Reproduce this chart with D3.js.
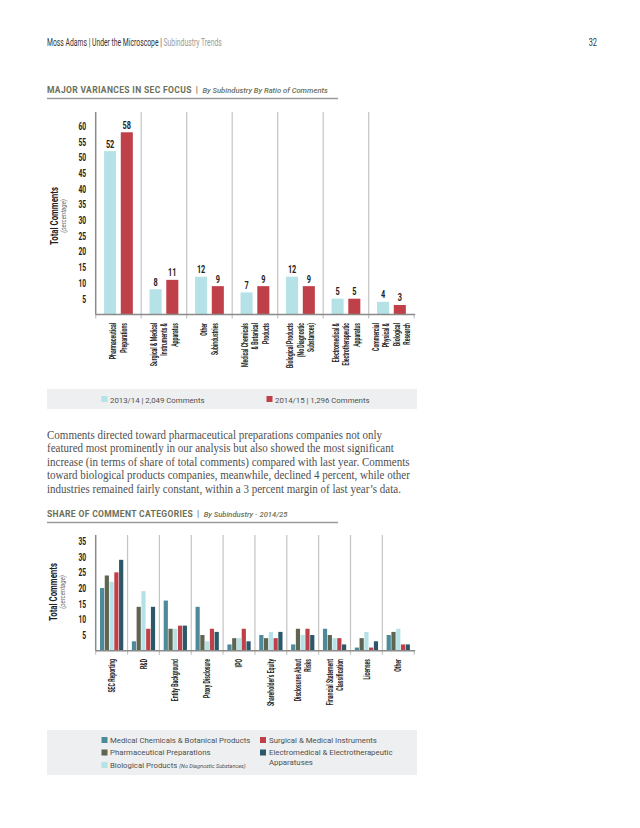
<!DOCTYPE html>
<html><head><meta charset="utf-8">
<script src="https://cdn.jsdelivr.net/npm/d3@7"></script>
<style>
body{margin:0;background:#fff;}
svg{display:block;}
</style></head>
<body>
<svg id="c" width="640" height="828"></svg>
<script>
// ---------- DATA ----------
const topCategories = [
  ["Pharmaceutical","Preparations"],
  ["Surgical & Medical","Instruments &","Apparatus"],
  ["Other","Subindustries"],
  ["Medical Chemicals","& Botanical","Products"],
  ["Biological Products","(No Diagnostic","Substances)"],
  ["Electromedical &","Electrotherapeutic","Apparatus"],
  ["Commercial","Physical &","Biological","Research"]
];
const topSeriesNames = ["2013/14 | 2,049 Comments","2014/15 | 1,296 Comments"];
const values2013 = [52, 8, 12, 7, 12, 5, 4];
const values2014 = [58, 11, 9, 9, 9, 5, 3];
const topTicks = [5,10,15,20,25,30,35,40,45,50,55,60];

const botCategories = [
  ["SEC Reporting"],["R&D"],["Entity Background"],["Proxy Disclosure"],["IPO"],
  ["Shareholder's Equity"],["Disclosures About","Risks"],["Financial Statement","Classification"],
  ["Licenses"],["Other"]
];
const botSeriesNames = ["Medical Chemicals & Botanical Products","Pharmaceutical Preparations",
  "Biological Products","Surgical & Medical Instruments","Electromedical & Electrotherapeutic"];
const medicalChemicals = [20, 3, 16, 14, 2, 5, 2, 7, 1, 5];
const pharmaceutical   = [24, 14, 7, 5, 4, 4, 7, 5, 4, 6];
const biological       = [22, 19, 7, 3, 4, 6, 5, 4, 6, 7];
const surgical         = [25, 7, 8, 7, 7, 4, 7, 4, 1, 2];
const electromedical   = [29, 14, 8, 6, 3, 6, 5, 2, 3, 2];
const botTicks = [5,10,15,20,25,30,35];

// ---------- STYLE ----------
const C = {cyan:"#b4e2e6", red:"#c0404a", teal:"#4d8b9b", olive:"#5e6550", dark:"#2c5769",
  title:"#6b6f58", axis:"#8a8a8a", sep:"#c4c4c4", text:"#222", legendBg:"#eeeff0", para:"#4f4f4f"};
const SANS = "Roboto, 'DejaVu Sans', sans-serif";

const svg = d3.select("#c");

// condensed text helper (real text, horizontally compressed)
function ctext(parent, o){
  const t = parent.append("text")
    .attr("transform",`translate(${o.x},${o.y}) rotate(${o.rot||0}) scale(${o.sx||0.7},1)`)
    .attr("text-anchor",o.anchor||"start")
    .attr("font-family",SANS).attr("font-size",o.size||9)
    .attr("font-weight",o.weight||400).attr("fill",o.fill||C.text);
  if(o.dy) t.attr("dy",o.dy);
  if(o.style) t.attr("font-style",o.style);
  t.text(o.text);
  return t;
}

// Header
const hdr = svg.append("text").attr("font-family",SANS).attr("font-size",10.8);
hdr.append("tspan").attr("fill","#333").text("Moss Adams | Under the Microscope | ");
hdr.append("tspan").attr("fill","#9a9a9a").text("Subindustry Trends");
const hl = hdr.node().getComputedTextLength();
hdr.attr("transform",`translate(47,46) scale(${175/hl},1)`);
ctext(svg,{x:597,y:46,anchor:"end",size:10.8,sx:0.68,fill:"#333",text:"32"});

function sectionTitle(y, main, sub){
  const t = svg.append("text").attr("font-family",SANS).attr("x",47).attr("y",y).attr("fill",C.title);
  t.append("tspan").attr("font-size",8.5).attr("font-weight",700).attr("letter-spacing",0.35).text(main);
  t.append("tspan").attr("font-size",8.5).attr("font-weight",700).attr("dx",4).text("|");
  t.append("tspan").attr("font-size",7.6).attr("font-style","italic").attr("font-weight",500)
    .attr("dx",4.5).text(sub);
  svg.append("line").attr("x1",47).attr("x2",338).attr("y1",y+5.5).attr("y2",y+5.5)
    .attr("stroke","#9a9a9a").attr("stroke-width",1.6);
}
sectionTitle(93, "MAJOR VARIANCES IN SEC FOCUS", "By Subindustry By Ratio of Comments");
sectionTitle(517, "SHARE OF COMMENT CATEGORIES", "By Subindustry - 2014/25");

function yTitle(cx, cy){
  ctext(svg,{x:cx,y:cy,rot:-90,anchor:"middle",size:11.2,weight:700,sx:0.7,text:"Total Comments"});
  ctext(svg,{x:cx+8,y:cy,rot:-90,anchor:"middle",size:7.2,sx:0.85,style:"italic",fill:"#666",text:"(percentage)"});
}

function drawChart(opt){
  const {cats, series, colors, ticks, x0, x1, yBase, yTopVal, yTopPx, axisTop, inner, labels, labelTop, lineH, fs} = opt;
  const idx = d3.range(cats.length);
  const x = d3.scaleBand().domain(idx).range([x0,x1]).paddingInner(0).paddingOuter(0);
  const xs = d3.scaleBand().domain(d3.range(series.length)).range([0,x.bandwidth()])
    .paddingInner(inner[0]).paddingOuter(inner[1]);
  const y = d3.scaleLinear().domain([0,yTopVal]).range([yBase,yTopPx]);
  const g = svg.append("g");
  // separators
  g.selectAll("line.sep").data(idx.slice(1).concat([cats.length])).join("line")
    .attr("x1",d=>x0+d*x.step()).attr("x2",d=>x0+d*x.step())
    .attr("y1",d=> d===cats.length ? yBase : axisTop).attr("y2",yBase+4)
    .attr("stroke",C.sep).attr("stroke-width",1.2);
  // bars
  series.forEach((vals,s)=>{
    g.selectAll(null).data(vals).join("rect")
      .attr("x",(d,i)=>x(i)+xs(s)).attr("width",xs.bandwidth())
      .attr("y",d=>y(d)).attr("height",d=>yBase-y(d)).attr("fill",colors[s]);
    if(labels){
      vals.forEach((d,i)=>{
        ctext(g,{x:x(i)+xs(s)+xs.bandwidth()/2, y:y(d)-3.5, anchor:"middle", size:10.5,
          weight:700, sx:0.7, text:d});
      });
    }
  });
  // axes
  const sx = 0.64;
  const ya = d3.axisLeft(y).tickValues(ticks).tickSize(0).tickPadding(0);
  const ag = g.append("g").attr("transform",`translate(${x0},0)`).call(ya);
  ag.select(".domain").remove();
  ag.selectAll("text").attr("x",-9.5/sx).attr("transform",`scale(${sx},1)`)
    .attr("font-size",10.5).attr("font-weight",700).attr("font-family",SANS).attr("fill",C.text);
  g.append("line").attr("x1",x0).attr("x2",x0).attr("y1",axisTop).attr("y2",yBase+1)
    .attr("stroke",C.axis).attr("stroke-width",1.5);
  g.append("line").attr("x1",x0).attr("x2",x1+1).attr("y1",yBase).attr("y2",yBase)
    .attr("stroke",C.axis).attr("stroke-width",1.5);
  g.append("line").attr("x1",x0).attr("x2",x0).attr("y1",yBase).attr("y2",yBase+4)
    .attr("stroke",C.sep).attr("stroke-width",1.2);
  // category labels
  cats.forEach((lines,i)=>{
    const cx = x(i)+x.bandwidth()/2;
    lines.forEach((ln,j)=>{
      const lx = cx + (j-(lines.length-1)/2)*lineH;
      ctext(svg,{x:lx, y:labelTop, rot:-90, anchor:"end", dy:"0.36em", size:fs, weight:700,
        sx:0.6, text:ln});
    });
  });
}

// Top chart
yTitle(58, 216);
drawChart({cats:topCategories, series:[values2013,values2014], colors:[C.cyan,C.red],
  ticks:topTicks, x0:95.7, x1:414.2, yBase:314.4, yTopVal:60, yTopPx:126, axisTop:112,
  inner:[0.28,0.5], labels:true, labelTop:323, lineH:10.5, fs:8.6});

// Top legend
svg.append("rect").attr("x",47).attr("y",389).attr("width",370).attr("height",20).attr("fill",C.legendBg);
[[101.5,110,C.cyan,topSeriesNames[0]],[266.5,275,C.red,topSeriesNames[1]]].forEach(([sx,tx,col,name])=>{
  svg.append("rect").attr("x",sx).attr("y",396).attr("width",6).attr("height",6).attr("fill",col);
  svg.append("text").attr("font-family",SANS).attr("x",tx).attr("y",402.5).attr("font-size",7.8)
    .attr("fill",C.para).text(name);
});

// Paragraph
const para = [
  "Comments directed toward pharmaceutical preparations companies not only",
  "featured most prominently in our analysis but also showed the most significant",
  "increase (in terms of share of total comments) compared with last year. Comments",
  "toward biological products companies, meanwhile, declined 4 percent, while other",
  "industries remained fairly constant, within a 3 percent margin of last year\u2019s data."
];
const pg = svg.append("g");
pg.selectAll("text").data(para).join("text")
  .attr("x",0).attr("y",(d,i)=>i*13.4)
  .attr("font-family","'Liberation Serif','DejaVu Serif',serif").attr("font-size",12.2)
  .attr("fill",C.para).text(d=>d);
const l0 = pg.select("text").node().getComputedTextLength();
pg.attr("transform",`translate(47,439) scale(${335/l0},1)`);

// Bottom chart
yTitle(57, 592);
drawChart({cats:botCategories, series:[medicalChemicals,pharmaceutical,biological,surgical,electromedical],
  colors:[C.teal,C.olive,C.cyan,C.red,C.dark], ticks:botTicks, x0:95.7, x1:414.2, yBase:650.7,
  yTopVal:35, yTopPx:541, axisTop:535, inner:[0.12,0.9], labels:false, labelTop:659, lineH:10, fs:8.6});

// Bottom legend
svg.append("rect").attr("x",47).attr("y",730).attr("width",370).attr("height",45).attr("fill",C.legendBg);
const legItems = [
  [101.5,110,740,C.teal,botSeriesNames[0]],
  [101.5,110,752.5,C.olive,botSeriesNames[1]],
  [101.5,110,765,C.cyan,botSeriesNames[2]],
  [260,269,740,C.red,botSeriesNames[3]],
  [260,269,752.5,C.dark,botSeriesNames[4]]
];
legItems.forEach(([sx,tx,cy,col,name],k)=>{
  svg.append("rect").attr("x",sx).attr("y",cy-3).attr("width",6).attr("height",6).attr("fill",col);
  const t = svg.append("text").attr("font-family",SANS).attr("x",tx).attr("y",cy+2.8).attr("font-size",7.8)
    .attr("fill",C.para).text(name);
  if(k===2){
    const w = t.node().getComputedTextLength();
    ctext(svg,{x:tx+w+2,y:cy+2.8,size:6,sx:0.92,style:"italic",fill:C.para,text:"(No Diagnostic Substances)"});
  }
});
svg.append("text").attr("font-family",SANS).attr("x",269).attr("y",764.5).attr("font-size",7.8)
  .attr("fill",C.para).text("Apparatuses");
</script>
</body></html>
